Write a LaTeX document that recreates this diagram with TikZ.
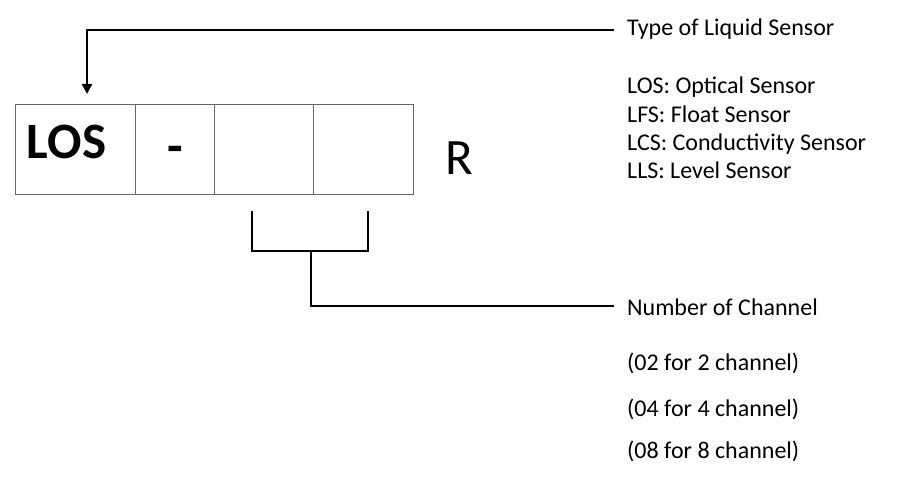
\documentclass[tikz,border=0pt]{standalone}
\usepackage{fontspec}
\setmainfont{Carlito}
\usetikzlibrary{arrows.meta}
\begin{document}
\begin{tikzpicture}[x=1pt,y=-1pt,
  cell/.style={draw=black!60,line width=0.9pt,minimum height=90pt,inner sep=0pt},
  conn/.style={draw=black,line width=2.6pt},
  big/.style={inner sep=0pt,anchor=base,font=\fontsize{51}{56}\selectfont},
  lbl/.style={anchor=base west,inner sep=0pt,font=\fontsize{24}{28}\selectfont}]
\useasboundingbox (0,0) rectangle (910,497);
\fill[white] (0,0) rectangle (910,497);
% cells
\node[cell,minimum width=120pt] (c1) at (75,149) {};
\node[cell,minimum width=79pt] (c2) at (174.5,149) {};
\node[cell,minimum width=99pt] (c3) at (263.5,149) {};
\node[cell,minimum width=100pt] (c4) at (363,149) {};
\node[big,font=\fontsize{51}{56}\selectfont\bfseries] (los) at (66.5,159) {LOS};
\node[big,font=\fontsize{51}{56}\selectfont\bfseries] (dash) at (175,164) {-};
\node[big] (r) at (459,175) {R};
% labels
\node[lbl] (type) at (627,36) {Type of Liquid Sensor};
\node[lbl] (l1) at (627,94) {LOS: Optical Sensor};
\node[lbl] (l2) at (627,123) {LFS: Float Sensor};
\node[lbl] (l3) at (627,151) {LCS: Conductivity Sensor};
\node[lbl] (l4) at (627,179) {LLS: Level Sensor};
\node[lbl] (num) at (627,315) {Number of Channel};
\node[lbl] (n1) at (627,370) {(02 for 2 channel)};
\node[lbl] (n2) at (627,416) {(04 for 4 channel)};
\node[lbl] (n3) at (627,458) {(08 for 8 channel)};
% connectors
\coordinate (typeend) at (614,30);
\coordinate (tip) at (87,94);
\draw[conn,-{Triangle[length=10pt,width=10pt]}] (typeend) -| (tip);
\coordinate (bl) at (252,211);
\coordinate (br) at (368,211);
\coordinate (bmid) at (311,251);
\coordinate (numend) at (614,306);
\draw[conn] (bl) |- (bmid -| br) -- (br);
\draw[conn] (bmid) |- (numend);
\end{tikzpicture}
\end{document}
